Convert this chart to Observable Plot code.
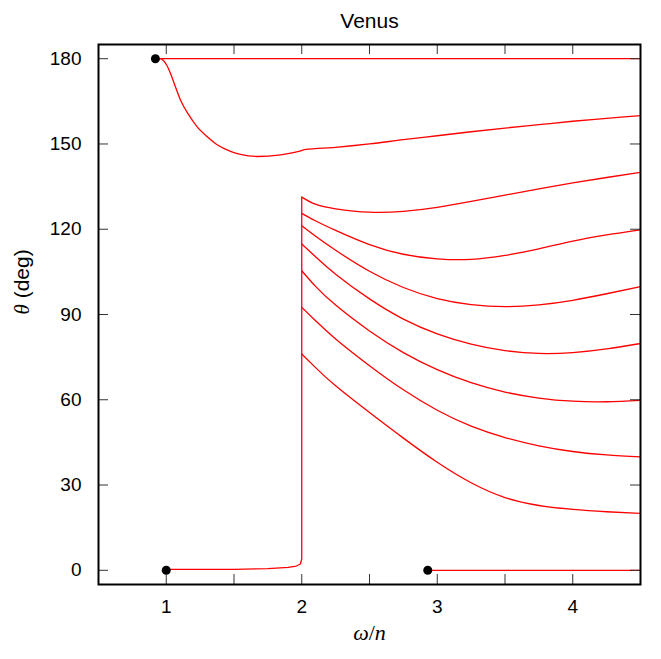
<!DOCTYPE html>
<html><head><meta charset="utf-8">
<script src="https://cdn.jsdelivr.net/npm/d3@7"></script>
<script src="https://cdn.jsdelivr.net/npm/@observablehq/plot@0.6"></script>
<style>body{margin:0;background:#fff} svg{display:block}</style>
</head><body><div id="chart"></div>
<script>
// ---- data ----
const titleText = "Venus";
const xLabelText = "ω/n";
const yLabelText = "θ (deg)";
const xTickLabels = [1, 2, 3, 4];
const xTickMarks = [1, 1.5, 2, 2.5, 3, 3.5, 4];
const yTickLabels = [0, 30, 60, 90, 120, 150, 180];

// horizontal branch at 180
const top180X = [0.92, 4.5];
const top180Y = [180, 180];
// branch falling from 180 to ~146 then rising to 160
const s160X = [0.92, 0.956, 0.98, 1.005, 1.03, 1.067, 1.104, 1.165, 1.227, 1.301, 1.376, 1.474, 1.548, 1.672, 1.844, 1.993, 2.02, 2.25, 2.5, 2.75, 3.0, 3.25, 3.5, 3.75, 4.0, 4.25, 4.5];
const s160Y = [180, 180, 179.3, 177.6, 175.0, 170.2, 165.6, 160.3, 156.1, 152.6, 149.7, 147.4, 146.3, 145.6, 146.2, 147.6, 148.0, 148.8, 150.0, 151.5, 152.9, 154.3, 155.6, 156.8, 158.0, 159.0, 160];
// low branch from 0 at omega/n = 1, jumping at 2
const lowX = [1.0, 1.5, 1.75, 1.9, 1.96, 1.99, 2.0, 2.0];
const lowY = [0.3, 0.35, 0.6, 1.0, 1.5, 2.2, 4, 131.3];
// branches starting at omega/n = 2
const bX = [2.0, 2.1, 2.25, 2.5, 2.75, 3.0, 3.25, 3.5, 3.75, 4.0, 4.25, 4.5];
const bAY = [131.3, 128.8, 127.2, 126.0, 126.3, 127.7, 129.8, 132.0, 134.2, 136.3, 138.2, 140.0];
const bBY = [125.6, 123.0, 119.6, 114.6, 111.2, 109.6, 109.4, 110.8, 113.1, 115.8, 118.0, 119.8];
const bCY = [121.2, 117.6, 112.6, 105.2, 99.5, 95.6, 93.5, 92.8, 93.4, 95.0, 97.3, 99.8];
const bDY = [114.8, 110.4, 104.2, 95.5, 88.4, 83.2, 79.6, 77.3, 76.3, 76.6, 77.9, 79.8];
const bEY = [105.4, 100.0, 93.3, 84.2, 76.6, 70.6, 66.0, 62.7, 60.6, 59.5, 59.3, 59.8];
const bFY = [92.5, 87.9, 81.4, 72.0, 63.5, 56.3, 50.7, 46.7, 43.8, 41.8, 40.6, 39.9];
const bGY = [76.1, 71.4, 64.9, 55.5, 46.5, 38.0, 30.8, 25.6, 22.8, 21.4, 20.6, 20.0];
// zero branch starting near omega/n = 2.93
const zeroX = [2.93, 4.5];
const zeroY = [0, 0];
// black dots
const dotX = [0.92, 1.0, 2.93];
const dotY = [180, 0, 0];

// ---- build tables ----
const toRows = (xs, ys, id) => xs.map((x, i) => ({x, y: ys[i], id}));
const branches = [
  ...toRows(bX, bAY, "A"), ...toRows(bX, bBY, "B"), ...toRows(bX, bCY, "C"),
  ...toRows(bX, bDY, "D"), ...toRows(bX, bEY, "E"), ...toRows(bX, bFY, "F"),
  ...toRows(bX, bGY, "G")
];
const s160 = toRows(s160X, s160Y, "s160");
const straight = [
  ...toRows(top180X, top180Y, "top"), ...toRows(lowX, lowY, "low"), ...toRows(zeroX, zeroY, "zero")
];
const dots = toRows(dotX, dotY, "dot");

const W = 661, H = 659, mL = 98, mR = 21, mT = 44, mB = 75;
const fw = W - mL - mR, fh = H - mT - mB, tick = 10;
const red = "#ff0000";

const chart = Plot.plot({
  width: W, height: H,
  marginLeft: mL, marginRight: mR, marginTop: mT, marginBottom: mB,
  style: {fontFamily: "'Liberation Sans', Arial, sans-serif", fontSize: "19px", background: "#fff", color: "#000"},
  x: {domain: [0.5, 4.5]},
  y: {domain: [-5, 185]},
  marks: [
    Plot.line(straight, {x: "x", y: "y", z: "id", stroke: red, strokeWidth: 1.3, curve: "linear"}),
    Plot.line(s160, {x: "x", y: "y", stroke: red, strokeWidth: 1.3, curve: "monotone-x"}),
    Plot.line(branches, {x: "x", y: "y", z: "id", stroke: red, strokeWidth: 1.3, curve: "natural"}),
    Plot.dot(dots, {x: "x", y: "y", r: 4.5, fill: "#000", stroke: "none"}),
    Plot.ruleX(xTickMarks, {insetTop: fh - tick, stroke: "#333", strokeWidth: 1}),
    Plot.ruleX(xTickMarks, {insetBottom: fh - tick, stroke: "#333", strokeWidth: 1}),
    Plot.ruleY(yTickLabels, {insetRight: fw - tick, stroke: "#333", strokeWidth: 1}),
    Plot.ruleY(yTickLabels, {insetLeft: fw - tick, stroke: "#333", strokeWidth: 1}),
    Plot.frame({stroke: "#000", strokeWidth: 2}),
    Plot.axisX(xTickLabels, {anchor: "bottom", tickSize: 0, tickPadding: 15, label: null, fontSize: 19, tickFormat: d => String(d)}),
    Plot.axisY(yTickLabels, {anchor: "left", tickSize: 0, tickPadding: 17, label: null, fontSize: 19, tickFormat: d => String(d)}),
    Plot.text([titleText], {frameAnchor: "top", dy: -31, fontSize: 21}),
    Plot.text([xLabelText], {frameAnchor: "bottom", dy: 55, fontSize: 22}),
    Plot.text([yLabelText], {frameAnchor: "left", dx: -76, rotate: -90, fontSize: 21})
  ]
});
document.getElementById("chart").appendChild(chart);

// mixed-style labels: math symbols in italic serif
const svg = d3.select(chart);
svg.selectAll("text").filter(function() { return this.textContent === xLabelText; }).each(function() {
  const t = d3.select(this); t.text(null);
  t.append("tspan").attr("font-family", "'Liberation Serif', serif").attr("font-style", "italic").text("ω");
  t.append("tspan").attr("font-family", "'Liberation Serif', serif").text("/");
  t.append("tspan").attr("font-family", "'Liberation Serif', serif").attr("font-style", "italic").text("n");
});
svg.selectAll("text").filter(function() { return this.textContent === yLabelText; }).each(function() {
  const t = d3.select(this); t.text(null);
  t.append("tspan").attr("font-family", "'Liberation Serif', serif").attr("font-style", "italic").text("θ");
  t.append("tspan").text(" (deg)");
});
</script>
</body></html>
